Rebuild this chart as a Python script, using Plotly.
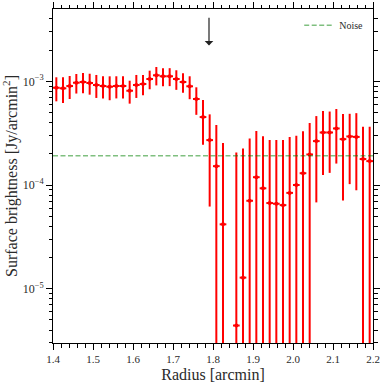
import plotly.graph_objects as go

# Radial bins (arcsec -> arcmin), surface brightness and 1-sigma errors
radius_arcsec = [84.5, 85.5, 86.5, 87.5, 88.5, 89.5, 90.5, 91.5, 92.5, 93.5,
                 94.5, 95.5, 96.5, 97.5, 98.5, 99.5, 100.5, 101.5, 102.5, 103.5,
                 104.5, 105.5, 106.5, 107.5, 108.5, 109.5, 110.5, 111.5, 112.5, 113.5,
                 114.5, 115.5, 116.5, 117.5, 118.5, 119.5, 120.5, 121.5, 122.5, 123.5,
                 124.5, 125.5, 126.5, 127.5, 128.5, 129.5, 130.5, 131.5]
sb_e4 = [8.67, 8.56, 9.00, 9.69, 9.85, 9.63, 9.21, 9.01, 8.87, 9.01,
         9.01, 8.11, 9.21, 9.42, 10.52, 11.43, 11.18, 11.18, 10.52, 9.85,
         8.95, 6.75, 4.52, 2.71, 1.52, 0.418, -0.20, 0.0442, 0.128, 0.705,
         1.19, 0.93, 0.67, 0.66, 0.64, 0.84, 1.00, 1.30, 1.97, 2.65,
         3.21, 3.21, 3.51, 2.77, 2.94, 2.91, 1.78, 1.70]
err_e4 = [2.26, 2.37, 2.25, 2.07, 2.18, 2.20, 2.30, 2.17, 2.30, 2.17,
          2.17, 2.02, 2.30, 2.09, 2.14, 2.30, 2.20, 2.20, 2.25, 2.10,
          2.23, 2.00, 2.08, 2.09, 2.26, 2.12, 2.11, 2.02, 2.12, 2.10,
          2.12, 2.03, 2.04, 2.05, 2.07, 2.07, 1.98, 2.00, 2.00, 1.97,
          1.96, 1.90, 1.90, 2.06, 1.92, 2.02, 1.87, 1.94]
bin_half_width = 0.5 / 60
noise_level = 1.91e-4
edge_radius = 1.79

y_major = [1e-5, 1e-4, 1e-3]
y_major_text = ["10<sup>\u22125</sup>", "10<sup>\u22124</sup>", "10<sup>\u22123</sup>"]
y_minor = [m * 10.0 ** e for e in (-6, -5, -4, -3) for m in range(2, 10)]

radius = [r / 60 for r in radius_arcsec]
sb = [v * 1e-4 for v in sb_e4]
err = [v * 1e-4 for v in err_e4]

font = "Liberation Serif"
text_color = "#2a2a2a"

fig = go.Figure()

# noise level, shown in legend
fig.add_shape(type="line", xref="paper", x0=0, x1=1, yref="y",
              y0=noise_level, y1=noise_level,
              line=dict(color="rgba(0,128,0,0.5)", width=1.5, dash="5px,2.5px"),
              showlegend=True, name="Noise")

fig.add_trace(go.Scatter(
    x=radius, y=sb, mode="markers", showlegend=False,
    marker=dict(color="red", size=4),
    error_y=dict(type="data", array=err, color="red", thickness=2, width=0),
    error_x=dict(type="constant", value=bin_half_width, color="red", thickness=2, width=0),
))

# arrow marking the edge
fig.add_annotation(x=edge_radius, xref="x", y=0.891, yref="y domain",
                   ax=edge_radius, axref="x", ay=0.978, ayref="y domain",
                   showarrow=True, arrowhead=1, arrowsize=1.2, arrowwidth=1.2,
                   arrowcolor="#222222", text="")

axis_common = dict(showline=True, linecolor="black", linewidth=1, mirror="ticks",
                   ticks="outside", ticklen=6, tickcolor="black", showgrid=False,
                   zeroline=False, automargin=False)

fig.update_xaxes(range=[1.4, 2.2], dtick=0.1, tickformat=".1f",
                 tickfont=dict(family=font, size=11, color=text_color),
                 minor=dict(dtick=0.02, ticks="outside", ticklen=3.5, tickcolor="black"),
                 title=dict(text="Radius [arcmin]", font=dict(family=font, size=16, color=text_color)),
                 **axis_common)
fig.update_yaxes(type="log", range=[-5.523, -2.303],
                 tickvals=y_major, ticktext=y_major_text,
                 tickfont=dict(family=font, size=12, color=text_color),
                 minor=dict(tickvals=y_minor, ticks="outside", ticklen=3.5, tickcolor="black"),
                 title=dict(text="Surface brightness [Jy/arcmin<sup>2</sup>]",
                            font=dict(family=font, size=16, color=text_color)),
                 **axis_common)

fig.update_layout(
    width=383, height=383,
    margin=dict(l=53, r=10, t=9, b=40, autoexpand=False),
    plot_bgcolor="white", paper_bgcolor="white",
    legend=dict(x=0.985, y=0.995, xanchor="right", yanchor="top",
                bgcolor="rgba(0,0,0,0)", font=dict(family=font, size=10, color=text_color),
                itemwidth=30),
)

fig.write_html("out.html", config={"displayModeBar": False},
               post_script="document.body.style.margin='0';")
